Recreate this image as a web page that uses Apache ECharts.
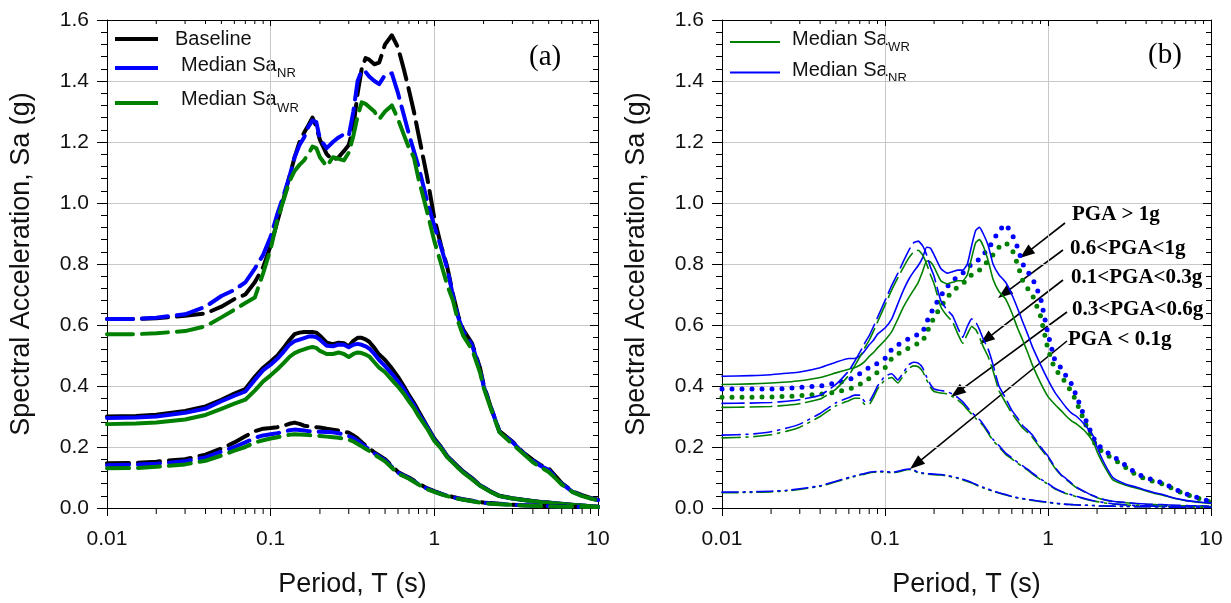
<!DOCTYPE html>
<html><head><meta charset="utf-8">
<script src="https://cdn.jsdelivr.net/npm/echarts@6/dist/echarts.min.js"></script>
<style>html,body{margin:0;padding:0;background:#fff}#c{width:1231px;height:603px}</style>
</head><body><div id="c"></div>
<script>
// ---------- axis ticks ----------
const yTicks = ['0.0','0.2','0.4','0.6','0.8','1.0','1.2','1.4','1.6'];
const xMinorTicks = [0.02,0.03,0.04,0.05,0.06,0.07,0.08,0.09,0.2,0.3,0.4,0.5,0.6,0.7,0.8,0.9,2,3,4,5,6,7,8,9];

// ---------- panel (a) ----------
const periodsA = [0.01,0.015,0.02,0.03,0.04,0.05,0.06,0.07,0.08,0.09,
 0.1,0.11,0.12,0.13,0.14,0.15,0.16,0.17,0.18,0.19,
 0.2,0.22,0.24,0.26,0.28,0.3,0.32,0.34,0.36,0.38,
 0.4,0.43,0.46,0.5,0.55,0.6,0.65,0.7,0.75,0.8,
 0.9,1.0,1.1,1.2,1.3,1.4,1.5,1.7,1.9,2.0,
 2.2,2.5,3.0,3.5,4.0,4.5,5.0,5.5,6.0,7.0,
 8.0,9.0,10];
const aBaselineHigh = [0.62,0.62,0.622,0.63,0.638,0.66,0.685,0.70,0.74,0.79,
 0.86,0.94,1.015,1.085,1.15,1.2,1.23,1.255,1.28,1.25,
 1.207,1.16,1.14,1.15,1.17,1.19,1.25,1.36,1.44,1.475,
 1.47,1.455,1.46,1.52,1.55,1.51,1.44,1.37,1.30,1.225,
 1.09,0.95,0.86,0.79,0.70,0.63,0.585,0.54,0.46,0.405,
 0.335,0.252,0.218,0.182,0.158,0.14,0.13,0.105,0.082,0.055,
 0.042,0.033,0.027];
const aNRHigh = [0.62,0.62,0.624,0.635,0.66,0.695,0.715,0.74,0.785,0.83,
 0.89,0.965,1.025,1.085,1.15,1.19,1.215,1.25,1.27,1.265,
 1.21,1.18,1.2,1.215,1.225,1.22,1.30,1.40,1.435,1.43,
 1.415,1.40,1.39,1.42,1.425,1.36,1.29,1.225,1.17,1.12,
 1.01,0.925,0.855,0.785,0.695,0.625,0.58,0.535,0.455,0.40,
 0.335,0.25,0.216,0.18,0.155,0.137,0.125,0.1,0.08,0.053,
 0.04,0.032,0.026];
const aWRHigh = [0.57,0.57,0.573,0.58,0.596,0.625,0.65,0.672,0.69,0.77,
 0.85,0.945,1.01,1.07,1.105,1.125,1.14,1.16,1.185,1.18,
 1.15,1.12,1.15,1.145,1.14,1.165,1.22,1.285,1.33,1.325,
 1.315,1.30,1.275,1.30,1.32,1.275,1.225,1.18,1.15,1.08,
 0.975,0.875,0.80,0.73,0.68,0.61,0.565,0.52,0.445,0.395,
 0.33,0.248,0.21,0.178,0.15,0.132,0.118,0.097,0.077,0.052,
 0.039,0.031,0.025];
const aBaselineMid = [0.30,0.302,0.306,0.318,0.333,0.355,0.375,0.39,0.43,0.46,
 0.48,0.50,0.525,0.55,0.57,0.575,0.577,0.577,0.577,0.575,
 0.565,0.542,0.537,0.542,0.54,0.53,0.548,0.558,0.558,0.553,
 0.545,0.525,0.503,0.485,0.458,0.43,0.40,0.37,0.345,0.318,
 0.27,0.228,0.20,0.17,0.152,0.135,0.12,0.098,0.075,0.068,
 0.055,0.04,0.032,0.027,0.023,0.02,0.018,0.016,0.014,0.011,
 0.008,0.006,0.004];
const aNRMid = [0.295,0.297,0.30,0.312,0.326,0.35,0.368,0.382,0.42,0.452,
 0.47,0.49,0.512,0.535,0.547,0.552,0.557,0.562,0.563,0.56,
 0.552,0.532,0.53,0.536,0.535,0.527,0.535,0.538,0.535,0.53,
 0.523,0.505,0.485,0.465,0.44,0.415,0.39,0.362,0.338,0.31,
 0.268,0.224,0.198,0.168,0.15,0.133,0.118,0.096,0.074,0.067,
 0.054,0.039,0.031,0.026,0.022,0.019,0.017,0.015,0.013,0.01,
 0.008,0.006,0.004];
const aWRMid = [0.275,0.277,0.28,0.29,0.305,0.325,0.342,0.355,0.385,0.415,
 0.435,0.455,0.475,0.495,0.508,0.515,0.52,0.525,0.528,0.525,
 0.515,0.505,0.505,0.51,0.505,0.495,0.505,0.51,0.508,0.503,
 0.497,0.478,0.46,0.445,0.42,0.398,0.375,0.35,0.328,0.302,
 0.262,0.22,0.195,0.166,0.148,0.131,0.116,0.094,0.073,0.066,
 0.053,0.039,0.031,0.026,0.022,0.019,0.017,0.015,0.013,0.01,
 0.008,0.006,0.004];
const aBaselineLow = [0.147,0.148,0.152,0.16,0.175,0.195,0.215,0.235,0.252,0.26,
 0.262,0.265,0.27,0.276,0.28,0.276,0.27,0.268,0.266,0.265,
 0.264,0.26,0.257,0.254,0.25,0.247,0.238,0.228,0.216,0.205,
 0.196,0.182,0.172,0.16,0.138,0.118,0.108,0.1,0.09,0.08,
 0.065,0.055,0.047,0.041,0.036,0.032,0.029,0.024,0.02,0.018,
 0.016,0.014,0.011,0.009,0.008,0.007,0.006,0.0055,0.005,0.004,
 0.0035,0.003,0.003];
const aNRLow = [0.14,0.142,0.145,0.153,0.166,0.185,0.2,0.215,0.23,0.238,
 0.242,0.245,0.25,0.255,0.257,0.256,0.254,0.252,0.251,0.25,
 0.25,0.249,0.248,0.245,0.241,0.236,0.229,0.22,0.21,0.2,
 0.192,0.179,0.169,0.157,0.135,0.116,0.106,0.098,0.088,0.078,
 0.064,0.054,0.046,0.04,0.035,0.031,0.028,0.023,0.019,0.017,
 0.015,0.013,0.01,0.009,0.008,0.007,0.006,0.0055,0.005,0.004,
 0.0035,0.003,0.003];
const aWRLow = [0.13,0.131,0.135,0.143,0.155,0.172,0.188,0.2,0.215,0.222,
 0.228,0.232,0.236,0.24,0.242,0.241,0.24,0.239,0.238,0.237,
 0.236,0.234,0.232,0.23,0.227,0.224,0.218,0.21,0.202,0.194,
 0.187,0.175,0.165,0.153,0.132,0.113,0.104,0.096,0.086,0.077,
 0.062,0.053,0.045,0.039,0.034,0.03,0.027,0.022,0.018,0.016,
 0.014,0.012,0.01,0.008,0.007,0.006,0.0055,0.005,0.0045,0.004,
 0.0035,0.003,0.003];

// ---------- panel (b) ----------
const periodsB = [0.01,0.015,0.02,0.025,0.03,0.04,0.05,0.06,0.065,0.07,
 0.075,0.08,0.085,0.09,0.1,0.11,0.12,0.13,0.14,0.15,
 0.16,0.17,0.18,0.19,0.2,0.22,0.24,0.26,0.28,0.3,
 0.32,0.34,0.36,0.38,0.4,0.43,0.46,0.5,0.55,0.6,
 0.65,0.7,0.75,0.8,0.9,1.0,1.1,1.2,1.3,1.4,
 1.5,1.7,1.9,2.0,2.2,2.5,3.0,3.5,4.0,4.5,
 5.0,5.5,6.0,7.0,8.0,9.0,10];
// PGA > 1g (dotted)
const bNR_above1 = [0.39,0.39,0.39,0.392,0.395,0.40,0.41,0.42,0.43,0.44,
 0.452,0.46,0.465,0.475,0.49,0.52,0.535,0.545,0.555,0.562,
 0.57,0.575,0.61,0.635,0.66,0.695,0.725,0.745,0.76,0.77,
 0.785,0.80,0.81,0.815,0.83,0.85,0.875,0.91,0.93,0.90,
 0.855,0.80,0.775,0.755,0.69,0.57,0.485,0.46,0.43,0.405,
 0.365,0.29,0.23,0.21,0.19,0.17,0.14,0.112,0.10,0.09,
 0.083,0.073,0.062,0.047,0.037,0.028,0.02];
const bWR_above1 = [0.363,0.363,0.364,0.366,0.368,0.373,0.38,0.39,0.396,0.405,
 0.415,0.425,0.435,0.445,0.46,0.49,0.505,0.515,0.525,0.532,
 0.54,0.545,0.575,0.60,0.625,0.66,0.69,0.71,0.725,0.735,
 0.75,0.765,0.775,0.78,0.795,0.81,0.83,0.855,0.87,0.85,
 0.80,0.745,0.72,0.70,0.63,0.52,0.455,0.435,0.405,0.38,
 0.345,0.275,0.22,0.2,0.18,0.162,0.133,0.107,0.095,0.086,
 0.079,0.07,0.06,0.045,0.035,0.027,0.019];
// 0.6 < PGA < 1g (solid)
const bNR_06to1 = [0.432,0.434,0.437,0.442,0.446,0.46,0.478,0.49,0.49,0.498,
 0.515,0.535,0.55,0.57,0.59,0.62,0.67,0.715,0.75,0.775,
 0.795,0.82,0.855,0.852,0.83,0.785,0.77,0.775,0.78,0.78,
 0.80,0.86,0.91,0.92,0.90,0.86,0.80,0.765,0.74,0.70,
 0.655,0.61,0.57,0.53,0.47,0.42,0.38,0.352,0.328,0.31,
 0.30,0.27,0.235,0.2,0.15,0.1,0.078,0.068,0.058,0.05,
 0.045,0.038,0.032,0.025,0.021,0.018,0.016];
const bWR_06to1 = [0.405,0.407,0.41,0.413,0.417,0.428,0.443,0.455,0.46,0.468,
 0.48,0.497,0.51,0.525,0.55,0.578,0.62,0.66,0.69,0.715,
 0.74,0.775,0.81,0.807,0.79,0.745,0.735,0.74,0.745,0.745,
 0.765,0.82,0.87,0.88,0.86,0.81,0.75,0.71,0.685,0.64,
 0.59,0.55,0.51,0.47,0.41,0.365,0.34,0.32,0.30,0.285,
 0.275,0.25,0.215,0.185,0.14,0.092,0.075,0.065,0.056,0.048,
 0.043,0.037,0.031,0.024,0.02,0.017,0.015];
// 0.1 < PGA < 0.3g (long dash)
const bNR_01to03 = [0.343,0.344,0.346,0.35,0.355,0.37,0.405,0.45,0.48,0.51,
 0.54,0.565,0.595,0.625,0.68,0.73,0.77,0.81,0.845,0.87,
 0.875,0.86,0.83,0.79,0.76,0.68,0.65,0.63,0.59,0.56,
 0.595,0.62,0.61,0.585,0.555,0.52,0.47,0.40,0.36,0.32,
 0.295,0.27,0.255,0.24,0.2,0.17,0.135,0.11,0.095,0.08,
 0.068,0.052,0.04,0.035,0.028,0.022,0.018,0.015,0.013,0.012,
 0.011,0.01,0.009,0.008,0.007,0.006,0.006];
const bWR_01to03 = [0.33,0.331,0.333,0.337,0.342,0.357,0.39,0.435,0.465,0.495,
 0.525,0.55,0.58,0.61,0.665,0.715,0.755,0.79,0.82,0.84,
 0.845,0.83,0.80,0.765,0.735,0.66,0.63,0.61,0.57,0.54,
 0.57,0.595,0.585,0.56,0.53,0.495,0.45,0.385,0.345,0.31,
 0.285,0.262,0.248,0.233,0.195,0.165,0.132,0.108,0.093,0.078,
 0.066,0.051,0.039,0.034,0.027,0.021,0.017,0.014,0.012,0.011,
 0.01,0.009,0.008,0.007,0.006,0.006,0.005];
// 0.3 < PGA < 0.6g (dash-dot)
const bNR_03to06 = [0.239,0.242,0.25,0.262,0.275,0.31,0.345,0.362,0.37,0.37,
 0.35,0.35,0.373,0.40,0.432,0.44,0.42,0.445,0.47,0.478,
 0.475,0.46,0.43,0.405,0.39,0.385,0.382,0.373,0.362,0.348,
 0.33,0.315,0.30,0.29,0.275,0.25,0.225,0.205,0.18,0.165,
 0.15,0.138,0.127,0.115,0.095,0.08,0.065,0.055,0.048,0.043,
 0.038,0.03,0.024,0.022,0.018,0.014,0.01,0.008,0.007,0.006,
 0.005,0.005,0.004,0.004,0.003,0.003,0.003];
const bWR_03to06 = [0.23,0.233,0.24,0.252,0.265,0.3,0.335,0.352,0.36,0.36,
 0.34,0.34,0.362,0.39,0.42,0.428,0.41,0.435,0.458,0.466,
 0.463,0.448,0.42,0.396,0.382,0.377,0.374,0.365,0.354,0.34,
 0.323,0.308,0.294,0.284,0.27,0.245,0.221,0.2,0.176,0.161,
 0.147,0.135,0.124,0.112,0.093,0.078,0.063,0.054,0.047,0.042,
 0.037,0.029,0.023,0.021,0.017,0.013,0.01,0.008,0.007,0.006,
 0.005,0.005,0.004,0.004,0.003,0.003,0.003];
// PGA < 0.1g (dash-dot-dot)
const bNR_below01 = [0.052,0.053,0.055,0.058,0.063,0.073,0.088,0.1,0.105,0.11,
 0.113,0.117,0.119,0.12,0.12,0.117,0.12,0.125,0.128,0.125,
 0.117,0.115,0.113,0.112,0.111,0.11,0.107,0.103,0.099,0.094,
 0.089,0.084,0.078,0.072,0.068,0.062,0.056,0.05,0.044,0.038,
 0.034,0.031,0.028,0.026,0.022,0.019,0.016,0.014,0.012,0.011,
 0.01,0.009,0.008,0.007,0.0065,0.006,0.005,0.0045,0.004,0.004,
 0.0035,0.003,0.003,0.003,0.0025,0.0025,0.002];
const bWR_below01 = [0.05,0.051,0.053,0.056,0.061,0.071,0.086,0.098,0.103,0.108,
 0.111,0.115,0.117,0.118,0.118,0.115,0.118,0.123,0.126,0.123,
 0.115,0.113,0.111,0.11,0.109,0.108,0.105,0.101,0.097,0.092,
 0.087,0.082,0.076,0.07,0.066,0.06,0.055,0.049,0.043,0.037,
 0.033,0.03,0.027,0.025,0.021,0.018,0.015,0.013,0.012,0.011,
 0.01,0.009,0.008,0.007,0.0065,0.006,0.005,0.0045,0.004,0.004,
 0.0035,0.003,0.003,0.003,0.0025,0.0025,0.002];

// ---------- styling ----------
const BLACK = '#000000', BLUE = '#0000ff', GREEN = '#008000';
const SANS = '"Liberation Sans", Arial, sans-serif';
const SERIF = '"Liberation Serif", "Times New Roman", serif';
const GRID_COLOR = '#c8c8c8';

function pairs(xs, ys){ return xs.map((x,i)=>[x, ys[i]]); }

function lineSeries(name, xs, ys, color, width, dash, gi, smooth){
  return {
    type:'line', name, data: pairs(xs, ys), xAxisIndex: gi*2, yAxisIndex: gi*2,
    showSymbol:false, symbol:'none', smooth: smooth || 0, silent:true,
    lineStyle:{ color, width, type: dash || 'solid', cap: 'round', join:'round' }
  };
}

function xAxes(gi){
  return [
    { type:'log', logBase:10, gridIndex:gi, position:'bottom', min:0.01, max:10,
      name:'Period, T (s)', nameLocation:'middle', nameGap:63,
      nameTextStyle:{ fontFamily:SANS, fontSize:27, color:'#111' },
      axisLine:{ show:true, onZero:false, lineStyle:{ color:'#000', width:1 } },
      axisTick:{ show:true, inside:false, length:8, lineStyle:{ color:'#000' } },
      axisLabel:{ show:true, margin:21, fontFamily:SANS, fontSize:21, color:'#111',
        formatter: v => v >= 1 ? String(Math.round(v)) : String(+v.toPrecision(1)) },
      splitLine:{ show:true, lineStyle:{ color:GRID_COLOR, width:1 } } },
    { type:'log', logBase:10, gridIndex:gi, position:'top', min:0.01, max:10,
      axisLine:{ show:true, onZero:false, lineStyle:{ color:'#000', width:1 } },
      axisTick:{ show:true, inside:true, length:6, lineStyle:{ color:'#000' } },
      axisLabel:{ show:false }, splitLine:{ show:false } }
  ];
}
function yAxes(gi){
  return [
    { type:'value', gridIndex:gi, position:'left', min:0, max:1.6, interval:0.2,
      name:'Spectral Acceleration, Sa (g)', nameLocation:'middle', nameGap:72, nameRotate:90,
      nameTextStyle:{ fontFamily:SANS, fontSize:27, color:'#111' },
      axisLine:{ show:true, onZero:false, lineStyle:{ color:'#000', width:1 } },
      axisTick:{ show:true, inside:false, length:10, lineStyle:{ color:'#000' } },
      minorTick:{ show:true, splitNumber:5, length:6, lineStyle:{ color:'#000' } },
      axisLabel:{ show:true, margin:18, fontFamily:SANS, fontSize:21, color:'#111',
        showMinLabel:true, showMaxLabel:true,
        formatter: v => yTicks[Math.round(v/0.2)] },
      splitLine:{ show:true, lineStyle:{ color:GRID_COLOR, width:1 } } },
    { type:'value', gridIndex:gi, position:'right', min:0, max:1.6, interval:0.2,
      axisLine:{ show:true, onZero:false, lineStyle:{ color:'#000', width:1 } },
      axisTick:{ show:true, inside:true, length:8, lineStyle:{ color:'#000' } },
      minorTick:{ show:true, splitNumber:5, length:5, lineStyle:{ color:'#000' } },
      axisLabel:{ show:false }, splitLine:{ show:false } }
  ];
}

function minorTickSeries(gi){
  return {
    type:'custom', xAxisIndex: gi*2, yAxisIndex: gi*2, silent:true, clip:false, z:10,
    data: xMinorTicks.map(t => [t, 0]),
    renderItem: (params, api) => {
      const t = api.value(0);
      const b = api.coord([t, 0]);
      const top = api.coord([t, 1.6]);
      return { type:'group', children:[
        { type:'line', shape:{ x1:b[0], y1:b[1], x2:b[0], y2:b[1]+6 }, style:{ stroke:'#000', lineWidth:1 } },
        { type:'line', shape:{ x1:top[0], y1:top[1], x2:top[0], y2:top[1]+4 }, style:{ stroke:'#000', lineWidth:1 } }
      ]};
    }
  };
}

const W_A = 4;
const DASH_HIGH = [26, 9], DASH_LOW = [22, 9];
const W_B = 1.6;
const DOTS = [0, 10], LONGDASH = [22, 6], DASHDOT = [18, 6, 2, 6], DASHDOTDOT = [16, 5, 2, 5, 2, 5];

const series = [
  lineSeries('Baseline', periodsA, aBaselineHigh, BLACK, W_A, DASH_HIGH, 0),
  lineSeries('Median Sa NR', periodsA, aNRHigh, BLUE, W_A, DASH_HIGH, 0),
  lineSeries('Median Sa WR', periodsA, aWRHigh, GREEN, W_A, DASH_HIGH, 0),
  lineSeries('Baseline', periodsA, aBaselineMid, BLACK, W_A, 'solid', 0),
  lineSeries('Median Sa NR', periodsA, aNRMid, BLUE, W_A, 'solid', 0),
  lineSeries('Median Sa WR', periodsA, aWRMid, GREEN, W_A, 'solid', 0),
  lineSeries('Baseline', periodsA, aBaselineLow, BLACK, W_A, DASH_LOW, 0),
  lineSeries('Median Sa NR', periodsA, aNRLow, BLUE, W_A, DASH_LOW, 0),
  lineSeries('Median Sa WR', periodsA, aWRLow, GREEN, W_A, DASH_LOW, 0),

  lineSeries('WR PGA>1g', periodsB, bWR_above1, GREEN, 5, DOTS, 1),
  lineSeries('NR PGA>1g', periodsB, bNR_above1, BLUE, 5, DOTS, 1),
  lineSeries('WR 0.6-1g', periodsB, bWR_06to1, GREEN, W_B, 'solid', 1, 0.15),
  lineSeries('NR 0.6-1g', periodsB, bNR_06to1, BLUE, W_B, 'solid', 1, 0.15),
  lineSeries('WR 0.1-0.3g', periodsB, bWR_01to03, GREEN, W_B, LONGDASH, 1, 0.15),
  lineSeries('NR 0.1-0.3g', periodsB, bNR_01to03, BLUE, W_B, LONGDASH, 1, 0.15),
  lineSeries('WR 0.3-0.6g', periodsB, bWR_03to06, GREEN, W_B, DASHDOT, 1, 0.15),
  lineSeries('NR 0.3-0.6g', periodsB, bNR_03to06, BLUE, W_B, DASHDOT, 1, 0.15),
  lineSeries('WR <0.1g', periodsB, bWR_below01, GREEN, W_B, DASHDOTDOT, 1, 0.15),
  lineSeries('NR <0.1g', periodsB, bNR_below01, BLUE, W_B, DASHDOTDOT, 1, 0.15),

  minorTickSeries(0), minorTickSeries(1)
];

// ---------- annotations ----------
const mctx = document.createElement('canvas').getContext('2d');
function textWidth(s, size){ mctx.font = size + 'px ' + SANS; return mctx.measureText(s).width; }

function arrow(x1,y1,x2,y2){
  const dx=x2-x1, dy=y2-y1, L=Math.hypot(dx,dy), ux=dx/L, uy=dy/L, hl=15, hw=5.5;
  const bx=x2-ux*hl, by=y2-uy*hl;
  return [
    { type:'line', shape:{ x1, y1, x2:bx+ux*2, y2:by+uy*2 }, style:{ stroke:'#000', lineWidth:1.6 } },
    { type:'polygon', shape:{ points:[[x2,y2],[bx-uy*hw,by+ux*hw],[bx+uy*hw,by-ux*hw]] }, style:{ fill:'#000' } }
  ];
}
function txt(x, y, text, font, size, weight, color){
  return { type:'text', x, y, style:{ text, fontFamily:font, fontSize:size, fontWeight:weight||'normal',
    fill:color||'#000', align:'left', verticalAlign:'middle' } };
}
function subTxt(x, yc, main, sub, size, subSize){
  const w = textWidth(main, size);
  return [ txt(x, yc, main, SANS, size, 'normal', '#111'),
           txt(x + w + 0.5, yc + 8.5, sub, SANS, subSize, 'normal', '#111') ];
}
function legLine(x1, x2, y, color, w){
  return { type:'line', shape:{ x1, y1:y, x2, y2:y }, style:{ stroke:color, lineWidth:w } };
}

const graphics = [
  legLine(115, 158, 39, BLACK, 4), legLine(115, 158, 68, BLUE, 4), legLine(115, 158, 103, GREEN, 4),
  txt(175, 39, 'Baseline', SANS, 20, 'normal', '#111'),
  ...subTxt(181, 65, 'Median Sa', 'NR', 20, 13),
  ...subTxt(181, 99.5, 'Median Sa', 'WR', 20, 13),
  txt(529, 57, '(a)', SERIF, 29),
  legLine(730, 780, 42, GREEN, 2), legLine(730, 780, 72.5, BLUE, 2),
  ...subTxt(792, 39, 'Median Sa', 'WR', 20, 13),
  ...subTxt(792, 70, 'Median Sa', 'NR', 20, 13),
  txt(1148, 55, '(b)', SERIF, 29),
  txt(1072, 215, 'PGA > 1g', SERIF, 21, 'bold'),
  txt(1070, 249, '0.6<PGA<1g', SERIF, 21, 'bold'),
  txt(1071, 278, '0.1<PGA<0.3g', SERIF, 21, 'bold'),
  txt(1072, 310, '0.3<PGA<0.6g', SERIF, 21, 'bold'),
  txt(1068, 340, 'PGA < 0.1g', SERIF, 21, 'bold'),
  ...arrow(1065, 223, 1020, 258),
  ...arrow(1063, 250, 998, 298),
  ...arrow(1063, 280, 980, 344),
  ...arrow(1067, 312, 951, 397),
  ...arrow(1067, 341, 910, 469)
];

const chart = echarts.init(document.getElementById('c'), null, { renderer:'canvas' });
chart.setOption({
  animation:false,
  backgroundColor:'#ffffff',
  grid:[
    { left:107, top:20, width:491, height:489, containLabel:false },
    { left:722, top:20, width:489, height:489, containLabel:false }
  ],
  xAxis:[...xAxes(0), ...xAxes(1)],
  yAxis:[...yAxes(0), ...yAxes(1)],
  series,
  graphic:{ elements: graphics }
});
</script>
</body></html>
